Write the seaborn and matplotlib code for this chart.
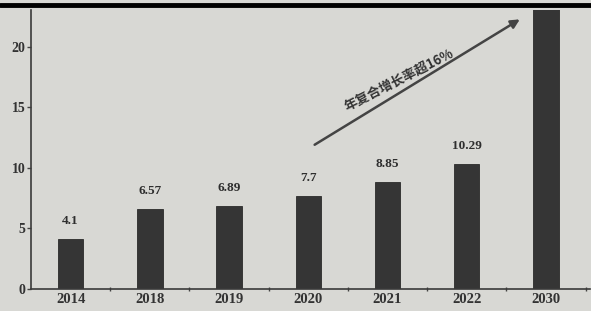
import matplotlib
matplotlib.use("Agg")
import matplotlib.pyplot as plt
import seaborn as sns
import pandas as pd
from matplotlib.lines import Line2D

years = ["2014", "2018", "2019", "2020", "2021", "2022", "2030"]
values = [4.1, 6.57, 6.89, 7.7, 8.85, 10.29, 25.0]
labels = ["4.1", "6.57", "6.89", "7.7", "8.85", "10.29", ""]
yticks = [0, 5, 10, 15, 20]
annotation = "年复合增长率超16%"

sns.set_theme(style="ticks")
plt.rcParams['font.family'] = ['Liberation Serif', 'DejaVu Serif']

bg = "#d8d8d4"
fig = plt.figure(figsize=(5.91, 3.11), dpi=100, facecolor=bg)
ax = fig.add_axes([0.0525, 0.0707, 0.945, 0.897])
ax.set_facecolor(bg)

df = pd.DataFrame({"year": years, "value": values})
sns.barplot(data=df, x="year", y="value", color="#353535", width=0.32,
            saturation=1, ax=ax, edgecolor="#2a2a2a", linewidth=0.6)

ax.set_xlim(-0.5, 6.55)
ax.set_ylim(0, 23.05)
ax.set_yticks(yticks)
ax.set_yticklabels([str(t) for t in yticks], fontsize=10, fontweight="bold", color="#333333")
ax.set_xticks(range(len(years)))
ax.set_xticklabels(years, fontsize=10.5, fontweight="bold", color="#333333")
ax.set_xticks([i + 0.5 for i in range(len(years))], minor=True)
ax.tick_params(axis="x", which="major", length=0, pad=3)
ax.tick_params(axis="x", which="minor", length=3, width=1, direction="inout", color="#444444")
ax.tick_params(axis="y", length=3, width=1, pad=1, color="#444444")
ax.set_xlabel("")
ax.set_ylabel("")
for s in ["top", "right"]:
    ax.spines[s].set_visible(False)
for s in ["left", "bottom"]:
    ax.spines[s].set_color("#3a3a3a")
    ax.spines[s].set_linewidth(1.2)

for i, (v, lab) in enumerate(zip(values, labels)):
    if lab:
        ax.text(i, v + 1.0, lab, ha="center", va="bottom", fontsize=9.5,
                fontweight="bold", color="#2e2e2e")

# growth arrow
ax.annotate("", xy=(5.7, 22.4), xytext=(3.05, 11.8),
            arrowprops=dict(arrowstyle="-|>", color="#444444", lw=1.8,
                            mutation_scale=13))
ax.text(4.15, 17.3, annotation, rotation=27, ha="center", va="center",
        fontsize=9.5, fontweight="bold", color="#333333",
        family=["Noto Sans CJK SC", "DejaVu Sans"])

fig.add_artist(Line2D([0, 1], [0.983, 0.983], transform=fig.transFigure,
                      color="black", lw=3.5))

fig.savefig("out.png", dpi=100, facecolor=bg)
